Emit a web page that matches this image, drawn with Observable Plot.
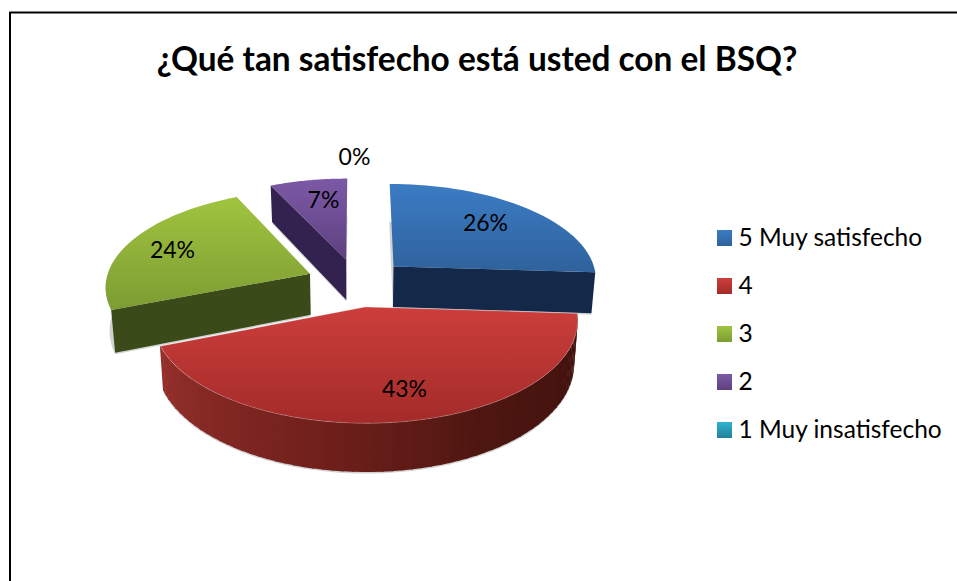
<!DOCTYPE html>
<html><head><meta charset="utf-8">
<script src="https://cdn.jsdelivr.net/npm/d3@7"></script>
<script src="https://cdn.jsdelivr.net/npm/@observablehq/plot@0.6"></script>
<style>html,body{margin:0;padding:0;background:#fff}svg{display:block}</style>
</head><body>
<script>
const title = "¿Qué tan satisfecho está usted con el BSQ?";
const categories = ["5 Muy satisfecho","4","3","2","1 Muy insatisfecho"];
const percents = [26,43,24,7,0];
const topColors = [["#3b7cc4","#2f629c"],["#cc3e3b","#a32b29"],["#a0c43f","#7d9c33"],["#7c59a6","#5e4180"],["#2fb3d4","#23809a"]];
const sideColors = ["#14294a","#5a1a16","#3a4a18","#33224f","#0f4a5a"];

// Projection of the exploded pie
const C={x:356.5,y:282}, R=204.5, K=96, P=0.12, E=0.25, H=41.5, S=0.984;
const total=d3.sum(percents);
function proj(X,Y,low){
  const d=1-P*Y; let x=C.x+R*X/d, y=C.y+K*Y/d;
  if(low){x=C.x+(x-C.x)*S; y+=H/d;}
  return {x,y};
}
let acc=0;
const slices=percents.map((v,i)=>{const a0=acc/total*2*Math.PI;acc+=v;const a1=acc/total*2*Math.PI;
  const m=(a0+a1)/2;return {i,a0,a1,m,ox:E*Math.sin(m),oy:-E*Math.cos(m)};});
const pt=(s,r,a,low)=>proj(s.ox+r*Math.sin(a),s.oy-r*Math.cos(a),low);
const arc=(s,a0,a1,low)=>d3.range(0,41).map(k=>pt(s,1,a0+(a1-a0)*k/40,low));
const topFace=(s,low)=>[pt(s,0,0,low),...arc(s,s.a0,s.a1,low),pt(s,0,0,low)];
const cutFace=(s,a)=>[pt(s,0,0),pt(s,1,a),pt(s,1,a,true),pt(s,0,0,true),pt(s,0,0)];

const cols=i=>`url(#top${i})`;
const poly=(data,fill,extra={})=>Plot.line(data,{x:"x",y:"y",fill,stroke:"none",curve:"linear",...extra});
const marks=[];
const defs=()=>{
  const ns="http://www.w3.org/2000/svg";
  const d=document.createElementNS(ns,"defs");
  topColors.forEach((c,i)=>{
    const g=document.createElementNS(ns,"linearGradient");
    g.setAttribute("id","top"+i);g.setAttribute("x1","0");g.setAttribute("y1","0");g.setAttribute("x2","0");g.setAttribute("y2","1");
    c.forEach((col,j)=>{const st=document.createElementNS(ns,"stop");st.setAttribute("offset",j);st.setAttribute("stop-color",col);g.appendChild(st);});
    d.appendChild(g);
  });
  return d;
};
marks.push(defs);
// frame
marks.push(Plot.line([{x:9.5,y:581},{x:9.5,y:12},{x:957,y:12}],{x:"x",y:"y",stroke:"#000",strokeWidth:2}));
const [blue,red,green,purple]=slices;
// soft shadows under each slice
[blue,red,green,purple].forEach(s=>marks.push(poly(topFace(s,true),"#000",{fillOpacity:0.18,dy:1.5,style:{filter:"blur(2px)"}})));
// purple
marks.push(poly(cutFace(purple,purple.a0),sideColors[3]));
marks.push(poly(topFace(purple),cols(3)));
// green
marks.push(poly(cutFace(green,green.a0),sideColors[2]));
marks.push(poly(topFace(green),cols(2)));
// blue
marks.push(poly(cutFace(blue,blue.a1),sideColors[0]));
marks.push(poly(topFace(blue),cols(0)));
// red wall: stepped bands
const nb=64;
const wallColor=d3.scaleLinear().domain([0,.35,.6,1]).range(["#3f110d","#4d1611","#6e1f1a","#96302c"]);
d3.range(nb).forEach(k=>{
  const a=red.a0+(red.a1-red.a0)*k/nb,b=red.a0+(red.a1-red.a0)*(k+1.2)/nb;
  marks.push(poly([pt(red,1,a),pt(red,1,b),pt(red,1,b,true),pt(red,1,a,true)],wallColor(k/nb)));
});
marks.push(poly(topFace(red),cols(1),{stroke:"#e8e8e8",strokeOpacity:0.35,strokeWidth:0.7}));

// labels
const labelPos=[{x:485,y:223},{x:404,y:389},{x:172,y:250},{x:323,y:200},{x:354,y:157}];
const labels=percents.map((v,i)=>({t:v+"%",...labelPos[i]}));
marks.push(Plot.text(labels,{x:"x",y:"y",text:"t",fontSize:23,fill:"#000",fontFamily:"Lato, Carlito, sans-serif"}));
// legend
const legY=[238,286,334,382,430];
const legend=categories.map((c,i)=>({c,i,y:legY[i]}));
legend.forEach(d=>marks.push(Plot.rect([d],{x1:()=>717,x2:()=>732,y1:()=>d.y-8,y2:()=>d.y+8,fill:cols(d.i)})));
marks.push(Plot.text(legend,{x:()=>738,y:"y",text:"c",textAnchor:"start",fontSize:24.5,fill:"#000",fontFamily:"Lato, Carlito, sans-serif"}));
marks.push(Plot.text([title],{x:()=>476.5,y:()=>60,text:d=>d,fontSize:33.4,fontWeight:"bold",fill:"#000",fontFamily:"Lato, Carlito, sans-serif"}));

const chart=Plot.plot({width:957,height:581,margin:0,
  x:{domain:[0,957],range:[0,957],axis:null},
  y:{domain:[0,581],range:[0,581],axis:null},
  marks});
document.body.appendChild(chart);
</script>
</body></html>
